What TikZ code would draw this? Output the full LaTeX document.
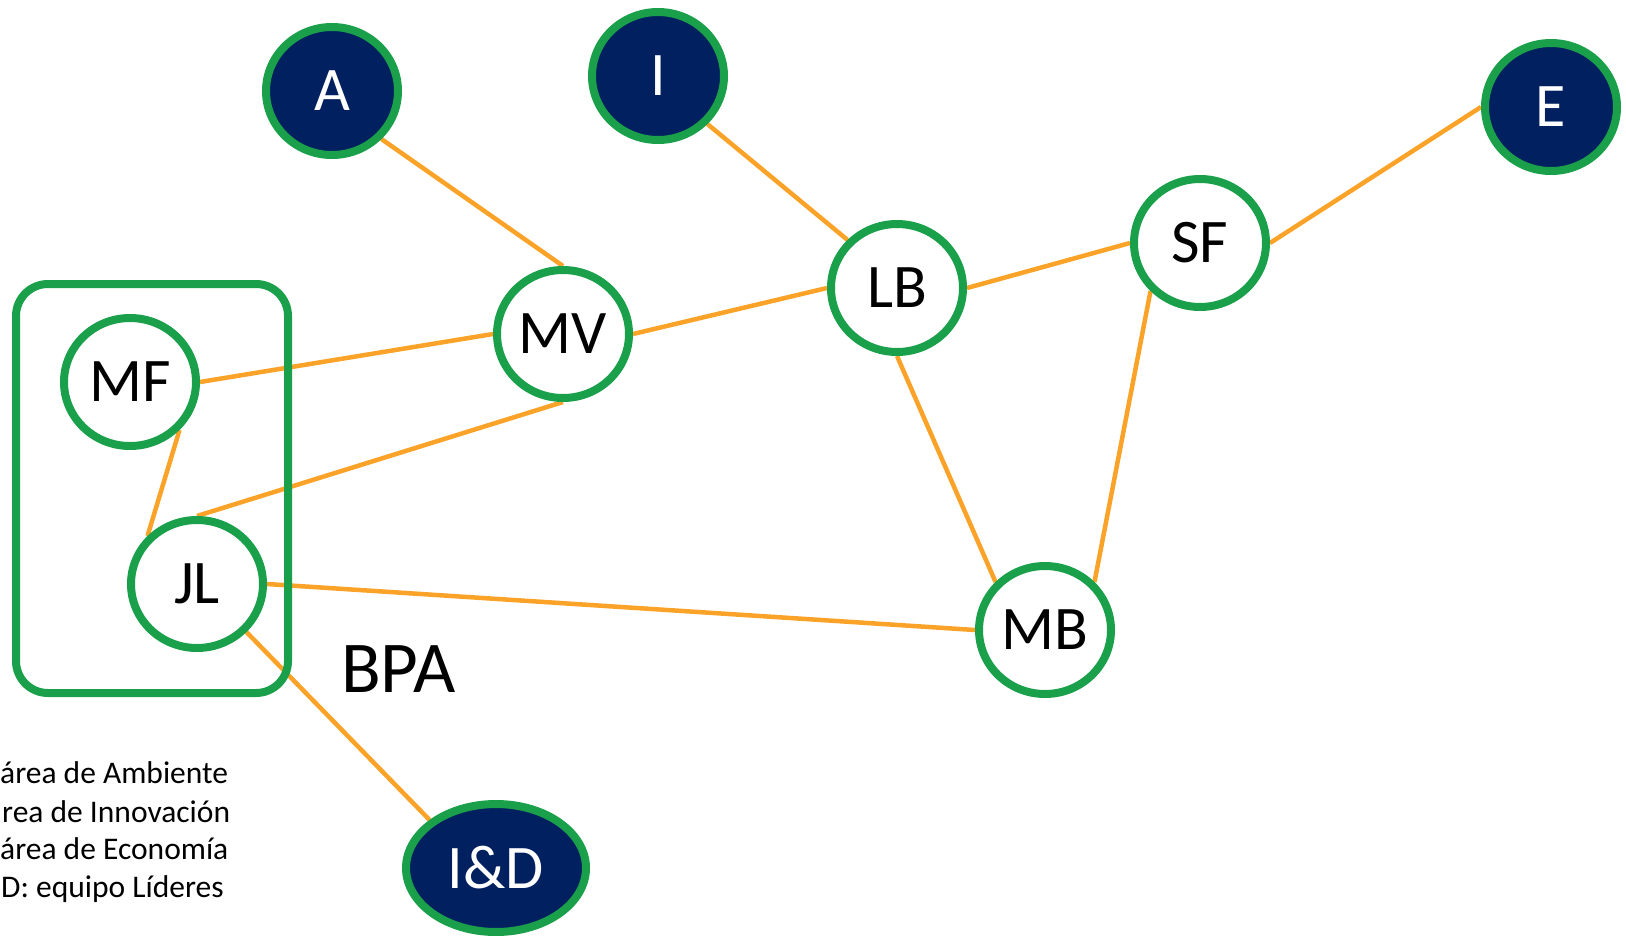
\documentclass[tikz,border=0pt]{standalone}
\usepackage{fontspec}
\setmainfont{Carlito}
\usepackage{tikz}
\usetikzlibrary{positioning,shapes.geometric,shadows}
\pgfdeclarelayer{edgelayer}
\pgfsetlayers{edgelayer,main}
\definecolor{ringgreen}{RGB}{26,160,75}
\definecolor{areablue}{RGB}{0,32,96}
\definecolor{linkorange}{RGB}{250,163,40}

\begin{document}
\begin{tikzpicture} [x=1pt, y=-1pt,
	person/.style={ellipse, draw=ringgreen, line width=8pt, fill=white, minimum width=132pt, minimum height=128pt, inner sep=0pt, font=\fontsize{62}{62}\selectfont, drop shadow={shadow xshift=2pt, shadow yshift=-3pt, opacity=.18, fill=black!60}},
	area/.style={person, fill=areablue, text=white},
	conn/.style={draw=linkorange, line width=4.5pt},
	group/.style={draw=ringgreen, line width=8pt, rounded corners=32pt},
	legend/.style={anchor=base west, inner sep=0pt, font=\fontsize{31.5}{31.5}\selectfont}]

\useasboundingbox (0,0) rectangle (1626,935);

% grupo BPA
\node [group, minimum width=272pt, minimum height=409pt] (bpabox) at (152,488.5) {};
\node [anchor=base west, inner sep=0pt, font=\fontsize{73}{73}\selectfont] (bpa) at (341,692) {BPA};

\node [area] 	(a) at (332,91)		{A};
\node [area] 	(i) at (658,76)		{I};
\node [area] 	(e) at (1551,107)	{E};
\node [area, minimum width=180pt, minimum height=128pt] (id) at (496,868) {I\&D};

\node [person]	(mv) at (563,334)	{MV};
\node [person]	(lb) at (897,288)	{LB};
\node [person]	(sf) at (1200,243)	{SF};
\node [person]	(mb) at (1045,630)	{MB};
\node [person]	(mf) at (130,382)	{MF};
\node [person]	(jl) at (197,584)	{JL};

\begin{pgfonlayer}{edgelayer}
\path[conn]
		(a.south east)	edge	(mv.north)
		(mf.east)		edge	(mv.west)
		(mv.east)		edge	(lb.west)
		(mv.south)		edge	(jl.north)
		(mf.south east)	edge	(jl.north west)
		(jl.east)		edge	(mb.west)
		(jl.south east)	edge	(id.north west)
		(i.south east)	edge	(lb.north west)
		(lb.east)		edge	(sf.west)
		(lb.south)		edge	(mb.north west)
		(sf.south west)	edge	(mb.north east)
		(sf.east)		edge	(e.west)
		;
\end{pgfonlayer}

% leyenda
\node [legend] (leg1) at (0,783) {área de Ambiente};
\node [legend] (leg2) at (2,822) {rea de Innovación};
\node [legend] (leg3) at (0,859) {área de Economía};
\node [legend] (leg4) at (1,897) {D: equipo Líderes};

\end{tikzpicture}
\end{document}
